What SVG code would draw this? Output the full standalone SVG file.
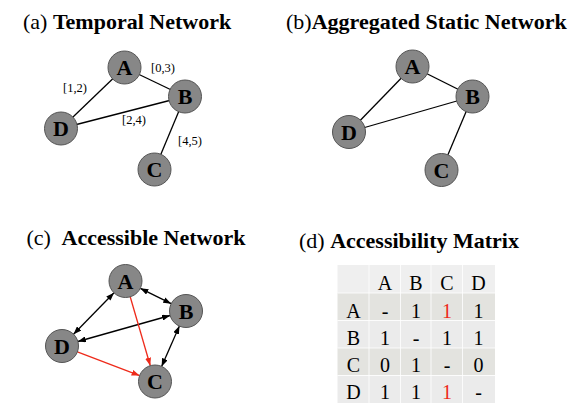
<svg xmlns="http://www.w3.org/2000/svg" width="581" height="416" viewBox="0 0 581 416">
<style>
.title{font-family:"Liberation Serif","Times New Roman",serif;font-size:22px;fill:#000}
.b{font-weight:bold}
.node circle{fill:#878787;stroke:#555;stroke-width:1}
.node text{font-family:"Liberation Serif","Times New Roman",serif;font-size:22px;font-weight:bold;text-anchor:middle;fill:#000}
.edge{stroke:#000;stroke-width:1.3;fill:none}
.red{stroke:#ee2a1a}
.lbl{font-family:"Liberation Serif","Times New Roman",serif;font-size:12.5px;fill:#000}
.cell{font-family:"Liberation Serif","Times New Roman",serif;font-size:20px;text-anchor:middle;fill:#000}
.rc{fill:#ee2a1a}
</style>
<defs>
<marker id="ah" viewBox="0 0 8 6" refX="8" refY="3" markerWidth="8" markerHeight="6" markerUnits="userSpaceOnUse" orient="auto-start-reverse"><path d="M0,0 L8,3 L0,6 z" fill="#000"/></marker>
<marker id="ahr" viewBox="0 0 8 6" refX="8" refY="3" markerWidth="8" markerHeight="6" markerUnits="userSpaceOnUse" orient="auto-start-reverse"><path d="M0,0 L8,3 L0,6 z" fill="#ee2a1a"/></marker>
</defs>

<!-- Titles -->
<text class="title" x="23" y="29">(a) <tspan class="b">Temporal Network</tspan></text>
<text class="title" x="286" y="29">(b)<tspan class="b">Aggregated Static Network</tspan></text>
<text class="title" x="26.5" y="245">(c)<tspan class="b" x="61.5">Accessible Network</tspan></text>
<text class="title" x="299" y="248">(d) <tspan class="b">Accessibility Matrix</tspan></text>

<!-- Connectors -->
<g id="connectors">
  <!-- (a) -->
  <line class="edge" x1="124.5" y1="67.5" x2="185" y2="96.5"/>
  <line class="edge" x1="124.5" y1="67.5" x2="61" y2="128.5"/>
  <line class="edge" x1="61" y1="128.5" x2="185" y2="96.5"/>
  <line class="edge" x1="185" y1="96.5" x2="154.5" y2="169.5"/>
  <!-- (b) -->
  <line class="edge" x1="412.5" y1="66.5" x2="472.5" y2="96.5"/>
  <line class="edge" x1="412.5" y1="66.5" x2="349" y2="132"/>
  <line class="edge" x1="349" y1="132" x2="472.5" y2="96.5"/>
  <line class="edge" x1="472.5" y1="96.5" x2="441.5" y2="170"/>
  <!-- (c) -->
  <line class="edge" x1="140.3" y1="288.3" x2="171.2" y2="303.7" marker-start="url(#ah)" marker-end="url(#ah)"/>
  <line class="edge" x1="114" y1="292.8" x2="73.5" y2="334.2" marker-start="url(#ah)" marker-end="url(#ah)"/>
  <line class="edge" x1="77.9" y1="341.5" x2="170.1" y2="315.5" marker-start="url(#ah)" marker-end="url(#ah)"/>
  <line class="edge" x1="179.4" y1="326.1" x2="161.6" y2="366.4" marker-start="url(#ah)" marker-end="url(#ah)"/>
  <line class="edge red" x1="130.2" y1="296.8" x2="150.3" y2="365.7" marker-end="url(#ahr)"/>
  <line class="edge red" x1="77.4" y1="351.9" x2="139.6" y2="375.6" marker-end="url(#ahr)"/>
  <!-- (a) labels -->
  <text class="lbl" x="63" y="91.5">[1,2)</text>
  <text class="lbl" x="151" y="71.5">[0,3)</text>
  <text class="lbl" x="122" y="123.5">[2,4)</text>
  <text class="lbl" x="178" y="144.5">[4,5)</text>
</g>

<!-- (a) nodes -->
<g id="a-A" class="node"><circle cx="124.5" cy="67.5" r="16.5"/><text x="124.5" y="75">A</text></g>
<g id="a-B" class="node"><circle cx="185" cy="96.5" r="16.5"/><text x="185" y="104">B</text></g>
<g id="a-D" class="node"><circle cx="61" cy="128.5" r="16.5"/><text x="61" y="136">D</text></g>
<g id="a-C" class="node"><circle cx="154.5" cy="169.5" r="16.5"/><text x="154.5" y="177">C</text></g>

<!-- (b) nodes -->
<g id="b-A" class="node"><circle cx="412.5" cy="66.5" r="16.5"/><text x="412.5" y="74">A</text></g>
<g id="b-B" class="node"><circle cx="472.5" cy="96.5" r="16.5"/><text x="472.5" y="104">B</text></g>
<g id="b-D" class="node"><circle cx="349" cy="132" r="16.5"/><text x="349" y="139.5">D</text></g>
<g id="b-C" class="node"><circle cx="441.5" cy="170" r="16.5"/><text x="441.5" y="177.5">C</text></g>

<!-- (c) nodes -->
<g id="c-A" class="node"><circle cx="125.5" cy="281" r="16.5"/><text x="125.5" y="288.5">A</text></g>
<g id="c-B" class="node"><circle cx="186" cy="311" r="16.5"/><text x="186" y="318.5">B</text></g>
<g id="c-D" class="node"><circle cx="62" cy="346" r="16.5"/><text x="62" y="353.5">D</text></g>
<g id="c-C" class="node"><circle cx="155" cy="381.5" r="16.5"/><text x="155" y="389">C</text></g>

<!-- (d) matrix -->
<g id="matrix">
  <rect x="337.5" y="265" width="157.5" height="28" fill="#efefef"/>
  <rect x="337.5" y="293" width="157.5" height="27.5" fill="#e3e3df"/>
  <rect x="337.5" y="320.5" width="157.5" height="27.5" fill="#ebebeb"/>
  <rect x="337.5" y="348" width="157.5" height="27.5" fill="#e3e3df"/>
  <rect x="337.5" y="375.5" width="157.5" height="27.5" fill="#ebebeb"/>
  <g stroke="#ffffff" stroke-width="0.8">
    <line x1="369" y1="265" x2="369" y2="403"/>
    <line x1="400.5" y1="265" x2="400.5" y2="403"/>
    <line x1="431" y1="265" x2="431" y2="403"/>
    <line x1="462.5" y1="265" x2="462.5" y2="403"/>
    <line x1="337.5" y1="293" x2="495" y2="293"/>
    <line x1="337.5" y1="320.5" x2="495" y2="320.5"/>
    <line x1="337.5" y1="348" x2="495" y2="348"/>
    <line x1="337.5" y1="375.5" x2="495" y2="375.5"/>
  </g>
  <text class="cell" x="385" y="290">A</text><text class="cell" x="416" y="290">B</text><text class="cell" x="447" y="290">C</text><text class="cell" x="478.5" y="290">D</text>
  <text class="cell" x="353.5" y="317.5">A</text><text class="cell" x="385" y="317.5">-</text><text class="cell" x="416" y="317.5">1</text><text class="cell rc" x="447" y="317.5">1</text><text class="cell" x="478.5" y="317.5">1</text>
  <text class="cell" x="353.5" y="344.5">B</text><text class="cell" x="385" y="344.5">1</text><text class="cell" x="416" y="344.5">-</text><text class="cell" x="447" y="344.5">1</text><text class="cell" x="478.5" y="344.5">1</text>
  <text class="cell" x="353.5" y="372">C</text><text class="cell" x="385" y="372">0</text><text class="cell" x="416" y="372">1</text><text class="cell" x="447" y="372">-</text><text class="cell" x="478.5" y="372">0</text>
  <text class="cell" x="353.5" y="398.5">D</text><text class="cell" x="385" y="398.5">1</text><text class="cell" x="416" y="398.5">1</text><text class="cell rc" x="447" y="398.5">1</text><text class="cell" x="478.5" y="398.5">-</text>
</g>
</svg>
